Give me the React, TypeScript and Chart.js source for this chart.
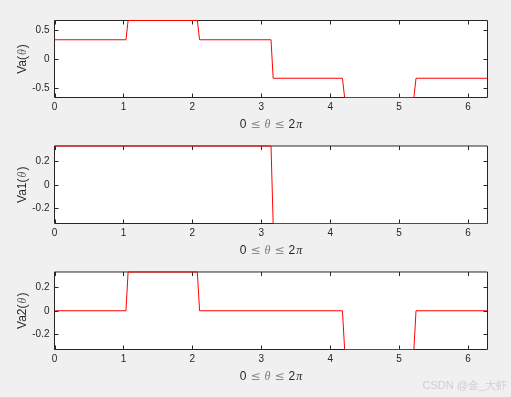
import React, { useEffect, useRef } from "react";
import { Chart, registerables } from "chart.js";

Chart.register(...registerables);

// ---- data ----
const xTickValues = [0, 1, 2, 3, 4, 5, 6];
const xMax = 6.283185;

const thetaVa = [0, 1.037, 1.068, 2.073, 2.105, 3.142, 3.173, 4.178, 4.21, 5.215, 5.246, 6.283];
const va = [1 / 3, 1 / 3, 2 / 3, 2 / 3, 1 / 3, 1 / 3, -1 / 3, -1 / 3, -2 / 3, -2 / 3, -1 / 3, -1 / 3];

const thetaVa1 = [0, 3.142, 3.173, 6.283];
const va1 = [1 / 3, 1 / 3, -1 / 3, -1 / 3];

const thetaVa2 = [0, 1.037, 1.068, 2.073, 2.105, 4.178, 4.21, 5.215, 5.246, 6.283];
const va2 = [0, 0, 1 / 3, 1 / 3, 0, 0, -1 / 3, -1 / 3, 0, 0];

const vaTicks = [-0.5, 0, 0.5];
const va1Ticks = [-0.2, 0, 0.2];
const va2Ticks = [-0.2, 0, 0.2];
const vaLimit = 2 / 3;
const va1Limit = 1 / 3;
const va2Limit = 1 / 3;

const yLabelVa = "Va";
const yLabelVa1 = "Va1";
const yLabelVa2 = "Va2";
const watermark = "CSDN @金_大虾";

// ---- layout ----
const W = 511;
const H = 397;
const LEFT = 54.5;
const RIGHT = 487.5;
const XAXIS_H = 25;
const EXTRA = 1; // px of chart area beyond the axes box, top and bottom
const TEXT = "#262626";
const SANS = "'Liberation Sans', Arial, sans-serif";
const SERIF = "'Liberation Serif', 'DejaVu Serif', serif";

type Part = { t?: string; font?: string; color?: string; gap?: number };

function drawRich(ctx: CanvasRenderingContext2D, parts: Part[], cx: number, cy: number) {
  let total = 0;
  const widths = parts.map((p) => {
    if (p.gap !== undefined) {
      total += p.gap;
      return p.gap;
    }
    ctx.font = p.font as string;
    const w = ctx.measureText(p.t as string).width;
    total += w;
    return w;
  });
  let x = cx - total / 2;
  ctx.textBaseline = "middle";
  ctx.textAlign = "left";
  parts.forEach((p, i) => {
    if (p.gap === undefined) {
      ctx.font = p.font as string;
      ctx.fillStyle = p.color || TEXT;
      ctx.fillText(p.t as string, x, cy);
    }
    x += widths[i];
  });
}

const labelFont = `12px ${SANS}`;
const thetaFont = `italic 12px ${SERIF}`;
const relFont = `12px 'DejaVu Sans', ${SANS}`;

function xLabelParts(): Part[] {
  return [
    { t: "0", font: labelFont },
    { gap: 4 },
    { t: "≤", font: relFont, color: "#8c8c8c" },
    { gap: 4 },
    { t: "θ", font: thetaFont, color: "#7a7a7a" },
    { gap: 4 },
    { t: "≤", font: relFont, color: "#8c8c8c" },
    { gap: 4 },
    { t: "2", font: labelFont },
    { gap: 1 },
    { t: "π", font: thetaFont },
  ];
}

function yLabelParts(name: string): Part[] {
  return [
    { t: name + "(", font: labelFont },
    { gap: 1 },
    { t: "θ", font: thetaFont, color: "#666666" },
    { gap: 1 },
    { t: ")", font: labelFont },
  ];
}

function boxOf(chart: any, lim: number) {
  const { chartArea: a, scales } = chart;
  return {
    left: a.left,
    right: a.right,
    top: scales.y.getPixelForValue(lim),
    bottom: scales.y.getPixelForValue(-lim),
  };
}

// The frame and white background are painted *behind* the already drawn
// data line (destination-over), so the red line always stays on top.
const framePlugin = {
  id: "frame",
  afterDatasetsDraw(chart: any, _args: any, opts: any) {
    const { ctx, scales } = chart;
    const b = boxOf(chart, opts.lim);
    ctx.save();
    ctx.globalCompositeOperation = "destination-over";
    ctx.strokeStyle = TEXT;
    ctx.lineWidth = 1;
    ctx.beginPath();
    ctx.rect(b.left, b.top, b.right - b.left, b.bottom - b.top);
    const tl = 4;
    xTickValues.forEach((v) => {
      const px = Math.round(scales.x.getPixelForValue(v)) + 0.5;
      ctx.moveTo(px, b.bottom);
      ctx.lineTo(px, b.bottom - tl);
      ctx.moveTo(px, b.top);
      ctx.lineTo(px, b.top + tl);
    });
    (opts.yTicks as number[]).forEach((v) => {
      const py = Math.round(scales.y.getPixelForValue(v)) + 0.5;
      ctx.moveTo(b.left, py);
      ctx.lineTo(b.left + tl, py);
      ctx.moveTo(b.right, py);
      ctx.lineTo(b.right - tl, py);
    });
    ctx.stroke();
    ctx.fillStyle = "#ffffff";
    ctx.fillRect(b.left, b.top, b.right - b.left, b.bottom - b.top);
    ctx.restore();
  },
  afterDraw(chart: any, _args: any, opts: any) {
    const { ctx } = chart;
    const b = boxOf(chart, opts.lim);
    ctx.save();
    drawRich(ctx, xLabelParts(), (b.left + b.right) / 2, b.bottom + 27.5);
    ctx.translate(22.5, (b.top + b.bottom) / 2);
    ctx.rotate(-Math.PI / 2);
    drawRich(ctx, yLabelParts(opts.yName), 0, 0);
    ctx.restore();
    if (opts.watermark) {
      ctx.save();
      ctx.font = `11px ${SANS}`;
      ctx.fillStyle = "#cfcfcf";
      ctx.textAlign = "right";
      ctx.textBaseline = "middle";
      ctx.fillText(watermark, 507, opts.wmY);
      ctx.restore();
    }
  },
};

type PlotDef = {
  xs: number[];
  ys: number[];
  yTicks: number[];
  lim: number;
  yName: string;
  bandTop: number;
  bandH: number;
  top: number;
  bottom: number;
  watermark?: boolean;
};

// top/bottom are page coordinates of the axes box; each plot has its own band canvas
const plots: PlotDef[] = [
  { xs: thetaVa, ys: va, yTicks: vaTicks, lim: vaLimit, yName: yLabelVa, bandTop: 0, bandH: 134, top: 20.5, bottom: 97.5 },
  { xs: thetaVa1, ys: va1, yTicks: va1Ticks, lim: va1Limit, yName: yLabelVa1, bandTop: 134, bandH: 126, top: 145.5, bottom: 223.5 },
  { xs: thetaVa2, ys: va2, yTicks: va2Ticks, lim: va2Limit, yName: yLabelVa2, bandTop: 260, bandH: 137, top: 271.5, bottom: 349.5, watermark: true },
];

function fmt(v: number): string {
  if (Math.abs(v) < 1e-9) return "0";
  return String(v);
}

function Plot({ def }: { def: PlotDef }) {
  const ref = useRef<HTMLCanvasElement | null>(null);
  useEffect(() => {
    if (!ref.current) return;
    const top = def.top - def.bandTop;
    const bottom = def.bottom - def.bandTop;
    const boxH = bottom - top;
    const ext = def.lim * (1 + (2 * EXTRA) / boxH);
    const chart = new Chart(ref.current, {
      type: "line",
      data: {
        datasets: [
          {
            data: def.xs.map((x, i) => ({ x, y: def.ys[i] })),
            borderColor: "#ff0000",
            borderWidth: 1,
            pointRadius: 0,
            fill: false,
            tension: 0,
            clip: false,
          } as any,
        ],
      },
      options: {
        animation: false,
        responsive: false,
        maintainAspectRatio: false,
        events: [],
        layout: {
          padding: {
            left: 0,
            right: W - RIGHT,
            top: top - EXTRA,
            bottom: def.bandH - (bottom + EXTRA) - XAXIS_H,
          },
        },
        plugins: {
          legend: { display: false },
          tooltip: { enabled: false },
          frame: {
            yTicks: def.yTicks,
            yName: def.yName,
            lim: def.lim,
            watermark: !!def.watermark,
            wmY: 386 - def.bandTop,
          },
        } as any,
        scales: {
          x: {
            type: "linear",
            min: 0,
            max: xMax,
            grid: { display: false, drawTicks: false },
            border: { display: false },
            afterBuildTicks: (s: any) => {
              s.ticks = xTickValues.map((v) => ({ value: v }));
            },
            afterFit: (s: any) => {
              s.height = XAXIS_H;
            },
            ticks: {
              autoSkip: false,
              maxRotation: 0,
              padding: 3,
              color: TEXT,
              font: { family: SANS, size: 10 },
              callback: (v: any) => fmt(Number(v)),
            },
          },
          y: {
            type: "linear",
            min: -ext,
            max: ext,
            grid: { display: false, drawTicks: false },
            border: { display: false },
            afterBuildTicks: (s: any) => {
              s.ticks = def.yTicks.map((v) => ({ value: v }));
            },
            afterFit: (s: any) => {
              s.width = LEFT;
            },
            ticks: {
              autoSkip: false,
              padding: 5,
              color: TEXT,
              font: { family: SANS, size: 10 },
              callback: (v: any) => fmt(Number(v)),
            },
          },
        },
      },
      plugins: [framePlugin as any],
    });
    return () => chart.destroy();
  }, [def]);
  return (
    <canvas
      ref={ref}
      width={W}
      height={def.bandH}
      style={{ position: "absolute", left: 0, top: def.bandTop, width: W, height: def.bandH }}
    />
  );
}

export default function App() {
  return (
    <div
      style={{
        position: "absolute",
        left: 0,
        top: 0,
        width: W,
        height: H,
        background: "#f0f0f0",
        overflow: "hidden",
      }}
    >
      {plots.map((p, i) => (
        <Plot key={i} def={p} />
      ))}
    </div>
  );
}
